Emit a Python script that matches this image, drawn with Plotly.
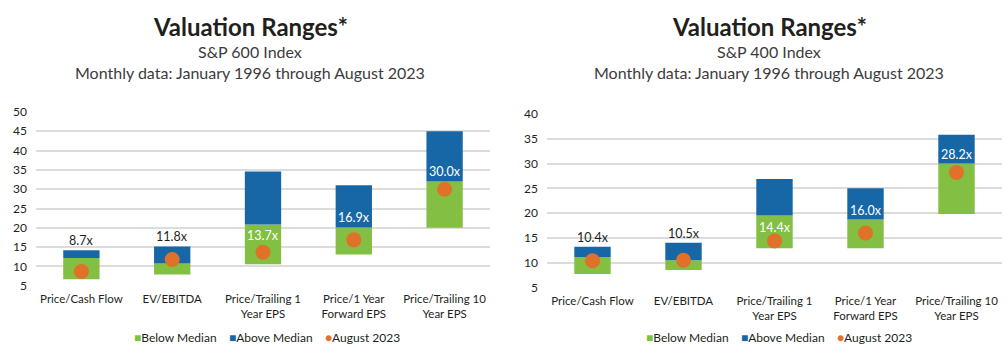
import plotly.graph_objects as go

# ---------------- data ----------------
categories = ["Price/Cash Flow", "EV/EBITDA", "Price/Trailing 1<br>Year EPS",
              "Price/1 Year<br>Forward EPS", "Price/Trailing 10<br>Year EPS"]

sp600_low = [6.7, 7.9, 10.6, 13.1, 20.0]
sp600_median = [12.2, 10.8, 20.9, 20.1, 32.0]
sp600_high = [14.2, 15.2, 34.6, 31.0, 45.0]
sp600_aug2023 = [8.7, 11.8, 13.7, 16.9, 30.0]

sp400_low = [7.7, 8.5, 12.9, 12.9, 19.8]
sp400_median = [11.1, 10.5, 19.5, 18.7, 30.0]
sp400_high = [13.2, 14.0, 26.9, 25.0, 35.8]
sp400_aug2023 = [10.4, 10.5, 14.4, 16.0, 28.2]

# where each value label sits relative to its bar
sp600_label_pos = ["top", "top", "below", "above", "above"]
sp400_label_pos = ["top", "top", "below", "above", "above"]

series_names = ["Below Median", "Above Median", "August 2023"]
titles = ["S&P 600 Index", "S&P 400 Index"]
subtitle = "Monthly data: January 1996 through August 2023"

# ---------------- style ----------------
GREEN = "#82BF42"
BLUE = "#1767A7"
ORANGE = "#E07128"
GRID = "#DCDCDC"
DARK = "#231F20"
SUB = "#3C3C3C"
FONT = "Lato"
W, H = 1008, 357


def px_x(p):
    return p / W


def px_y(p):
    return 1 - p / H


fig = go.Figure()

panels = [
    dict(low=sp600_low, med=sp600_median, high=sp600_high, aug=sp600_aug2023,
         pos=sp600_label_pos, xa="x", ya="y", lx=267),
    dict(low=sp400_low, med=sp400_median, high=sp400_high, aug=sp400_aug2023,
         pos=sp400_label_pos, xa="x2", ya="y2", lx=779),
]

annotations = []
for p in panels:
    below = [m - l for m, l in zip(p["med"], p["low"])]
    above = [h - m for h, m in zip(p["high"], p["med"])]
    fig.add_trace(go.Bar(x=categories, y=below, base=p["low"], name=series_names[0],
                         marker=dict(color=GREEN, line=dict(width=0)), width=0.4,
                         xaxis=p["xa"], yaxis=p["ya"], showlegend=False,
                         hoverinfo="skip"))
    fig.add_trace(go.Bar(x=categories, y=above, base=p["med"], name=series_names[1],
                         marker=dict(color=BLUE, line=dict(width=0)), width=0.4,
                         xaxis=p["xa"], yaxis=p["ya"], showlegend=False,
                         hoverinfo="skip"))
    fig.add_trace(go.Scatter(x=categories, y=p["aug"], name=series_names[2], mode="markers",
                             marker=dict(color=ORANGE, size=15, line=dict(width=0)),
                             xaxis=p["xa"], yaxis=p["ya"], showlegend=False,
                             hoverinfo="skip"))
    for c, a, pos, m, h in zip(categories, p["aug"], p["pos"], p["med"], p["high"]):
        if pos == "top":
            y, ya_, ys, col = h, "bottom", 0, DARK
        elif pos == "below":
            y, ya_, ys, col = m, "top", -2, "white"
        else:
            y, ya_, ys, col = m, "bottom", 0, "white"
        annotations.append(dict(x=c, y=y, xref=p["xa"], yref=p["ya"], text=f"{a:.1f}x",
                                showarrow=False, yanchor=ya_, yshift=ys,
                                font=dict(family=FONT, size=12.5, color=col)))
    # compact legend
    gap = "\u00a0" * 4
    legend_text = (f"<span style='color:{GREEN}'>■</span>{series_names[0]}{gap}"
                   f"<span style='color:{BLUE}'>■</span>{series_names[1]}{gap}"
                   f"<span style='color:{ORANGE}'>●</span>{series_names[2]}")
    annotations.append(dict(x=px_x(p["lx"]), y=px_y(344), xref="paper", yref="paper",
                            text=legend_text, showarrow=False, xanchor="center",
                            yanchor="middle", font=dict(family=FONT, size=12, color=DARK)))

# titles
for cx, sub in zip([250, 769], titles):
    annotations.append(dict(x=px_x(cx), y=px_y(19), xref="paper", yref="paper",
                            text="<b>Valuation Ranges*</b>", showarrow=False,
                            xanchor="center", yanchor="middle",
                            font=dict(family=FONT, size=24, color=DARK)))
    annotations.append(dict(x=px_x(cx), y=px_y(45), xref="paper", yref="paper",
                            text=sub, showarrow=False, xanchor="center", yanchor="middle",
                            font=dict(family=FONT, size=16, color=SUB)))
    annotations.append(dict(x=px_x(cx), y=px_y(67), xref="paper", yref="paper",
                            text=subtitle, showarrow=False, xanchor="center", yanchor="middle",
                            font=dict(family=FONT, size=16, color=SUB)))

axis_font = dict(family=FONT, size=12, color=DARK)
xcommon = dict(showgrid=False, ticks="", tickfont=dict(family=FONT, size=11.5, color=DARK),
               showline=False, fixedrange=True, tickangle=0, ticklabelstandoff=5)
ycommon = dict(showgrid=True, gridcolor=GRID, gridwidth=2, dtick=5, ticks="",
               tickfont=axis_font, zeroline=False, showline=False, ticklabelstandoff=8,
               fixedrange=True)

fig.update_layout(
    width=W, height=H,
    margin=dict(l=0, r=0, t=0, b=0),
    paper_bgcolor="white", plot_bgcolor="white",
    barmode="overlay",
    font=dict(family=FONT, color=DARK),
    xaxis=dict(domain=[px_x(36), px_x(490)], anchor="y", **xcommon),
    yaxis=dict(domain=[px_y(290), px_y(108.5)], anchor="x", range=[5, 50], **ycommon),
    xaxis2=dict(domain=[px_x(547), px_x(1002)], anchor="y2", **xcommon),
    yaxis2=dict(domain=[px_y(291.7), px_y(110.7)], anchor="x2", range=[5, 40], **ycommon),
    annotations=annotations,
    showlegend=False,
)

fig.write_html("out.html", config={"displayModeBar": False},
               post_script="document.body.style.margin='0';document.body.style.overflow='hidden';")
